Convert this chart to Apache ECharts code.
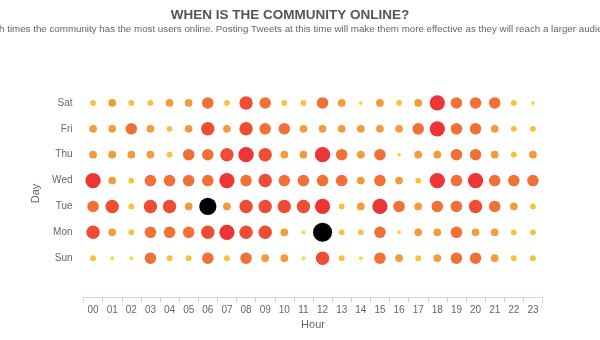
<!DOCTYPE html>
<html>
<head>
<meta charset="utf-8">
<script src="https://cdn.jsdelivr.net/npm/echarts@6/dist/echarts.min.js"></script>
<style>
html,body{margin:0;padding:0;background:#fff;}
#chart{width:600px;height:340px;}
</style>
</head>
<body>
<div id="chart"></div>
<script>
// Categories
var hours = ['00','01','02','03','04','05','06','07','08','09','10','11','12','13','14','15','16','17','18','19','20','21','22','23'];
var days = ['Sun','Mon','Tue','Wed','Thu','Fri','Sat'];
// Activity level per hour (00..23)
var sun = [2,1,1,5,2,2,5,2,5,3,3,1,6,2,1,5,3,2,3,5,5,3,2,2];
var mon = [6,3,2,5,5,5,6,7,6,6,3,1,9,2,2,5,1,3,3,5,3,3,2,2];
var tue = [5,6,2,6,6,3,8,3,6,6,6,6,7,2,3,7,5,3,5,5,6,5,3,2];
var wed = [7,3,2,5,5,5,5,7,5,6,5,5,5,5,3,5,3,2,7,5,7,5,5,5];
var thu = [3,3,3,3,2,5,5,6,7,6,3,3,7,5,3,5,1,3,3,5,5,3,2,3];
var fri = [3,3,5,3,2,3,6,3,6,5,5,3,3,3,3,3,3,5,7,5,5,3,2,2];
var sat = [2,3,2,2,3,3,5,2,6,5,2,2,5,3,1,3,2,3,7,5,5,5,2,1];

var rows = [sun, mon, tue, wed, thu, fri, sat];
var data = [];
rows.forEach(function (row, d) {
  row.forEach(function (v, h) { data.push([hours[h], days[d], v]); });
});

var palette = {1:'#fdd63c',2:'#fbc03b',3:'#f59a3b',4:'#f3853a',5:'#f07036',6:'#ee4d33',7:'#ee3535',8:'#000000',9:'#000000'};

var chart = echarts.init(document.getElementById('chart'), null, {renderer:'canvas'});
chart.setOption({
  animation: false,
  title: [{
    text: 'WHEN IS THE COMMUNITY ONLINE?',
    left: 290, top: 8, textAlign: 'center', padding: 0,
    textStyle: {fontFamily: 'Liberation Sans', fontSize: 13.5, fontWeight: 'bold', color: '#555555'}
  }, {
    text: 'Shows at which times the community has the most users online. Posting Tweets at this time will make them more effective as they will reach a larger audience.',
    right: -21, top: 24, padding: 0,
    textStyle: {fontFamily: 'Liberation Sans', fontSize: 9.75, fontWeight: 'normal', color: '#666666'}
  }],
  grid: {left: 83.5, right: 57.5, top: 90, bottom: 43},
  xAxis: {
    type: 'category', data: hours, boundaryGap: true,
    name: 'Hour', nameLocation: 'middle', nameGap: 22,
    nameTextStyle: {fontFamily: 'Liberation Sans', fontSize: 11, color: '#666666'},
    axisLine: {lineStyle: {color: '#ccd6eb'}},
    axisTick: {show: true, length: 6, lineStyle: {color: '#ccd6eb'}},
    axisLabel: {fontFamily: 'Liberation Sans', fontSize: 10, color: '#666666', margin: 8},
    splitLine: {show: false}
  },
  yAxis: {
    type: 'category', data: [''].concat(days), boundaryGap: true,
    name: 'Day', nameLocation: 'middle', nameGap: 41,
    nameTextStyle: {fontFamily: 'Liberation Sans', fontSize: 11, color: '#666666'},
    axisLine: {show: false}, axisTick: {show: false},
    axisLabel: {fontFamily: 'Liberation Sans', fontSize: 10, color: '#666666', margin: 11},
    splitLine: {show: false}
  },
  series: [{
    type: 'scatter',
    data: data,
    symbolSize: function (val) { return 2 + 1.9 * val[2]; },
    itemStyle: {
      color: function (p) { return palette[p.value[2]]; },
      opacity: 1
    }
  }]
});
</script>
</body>
</html>
